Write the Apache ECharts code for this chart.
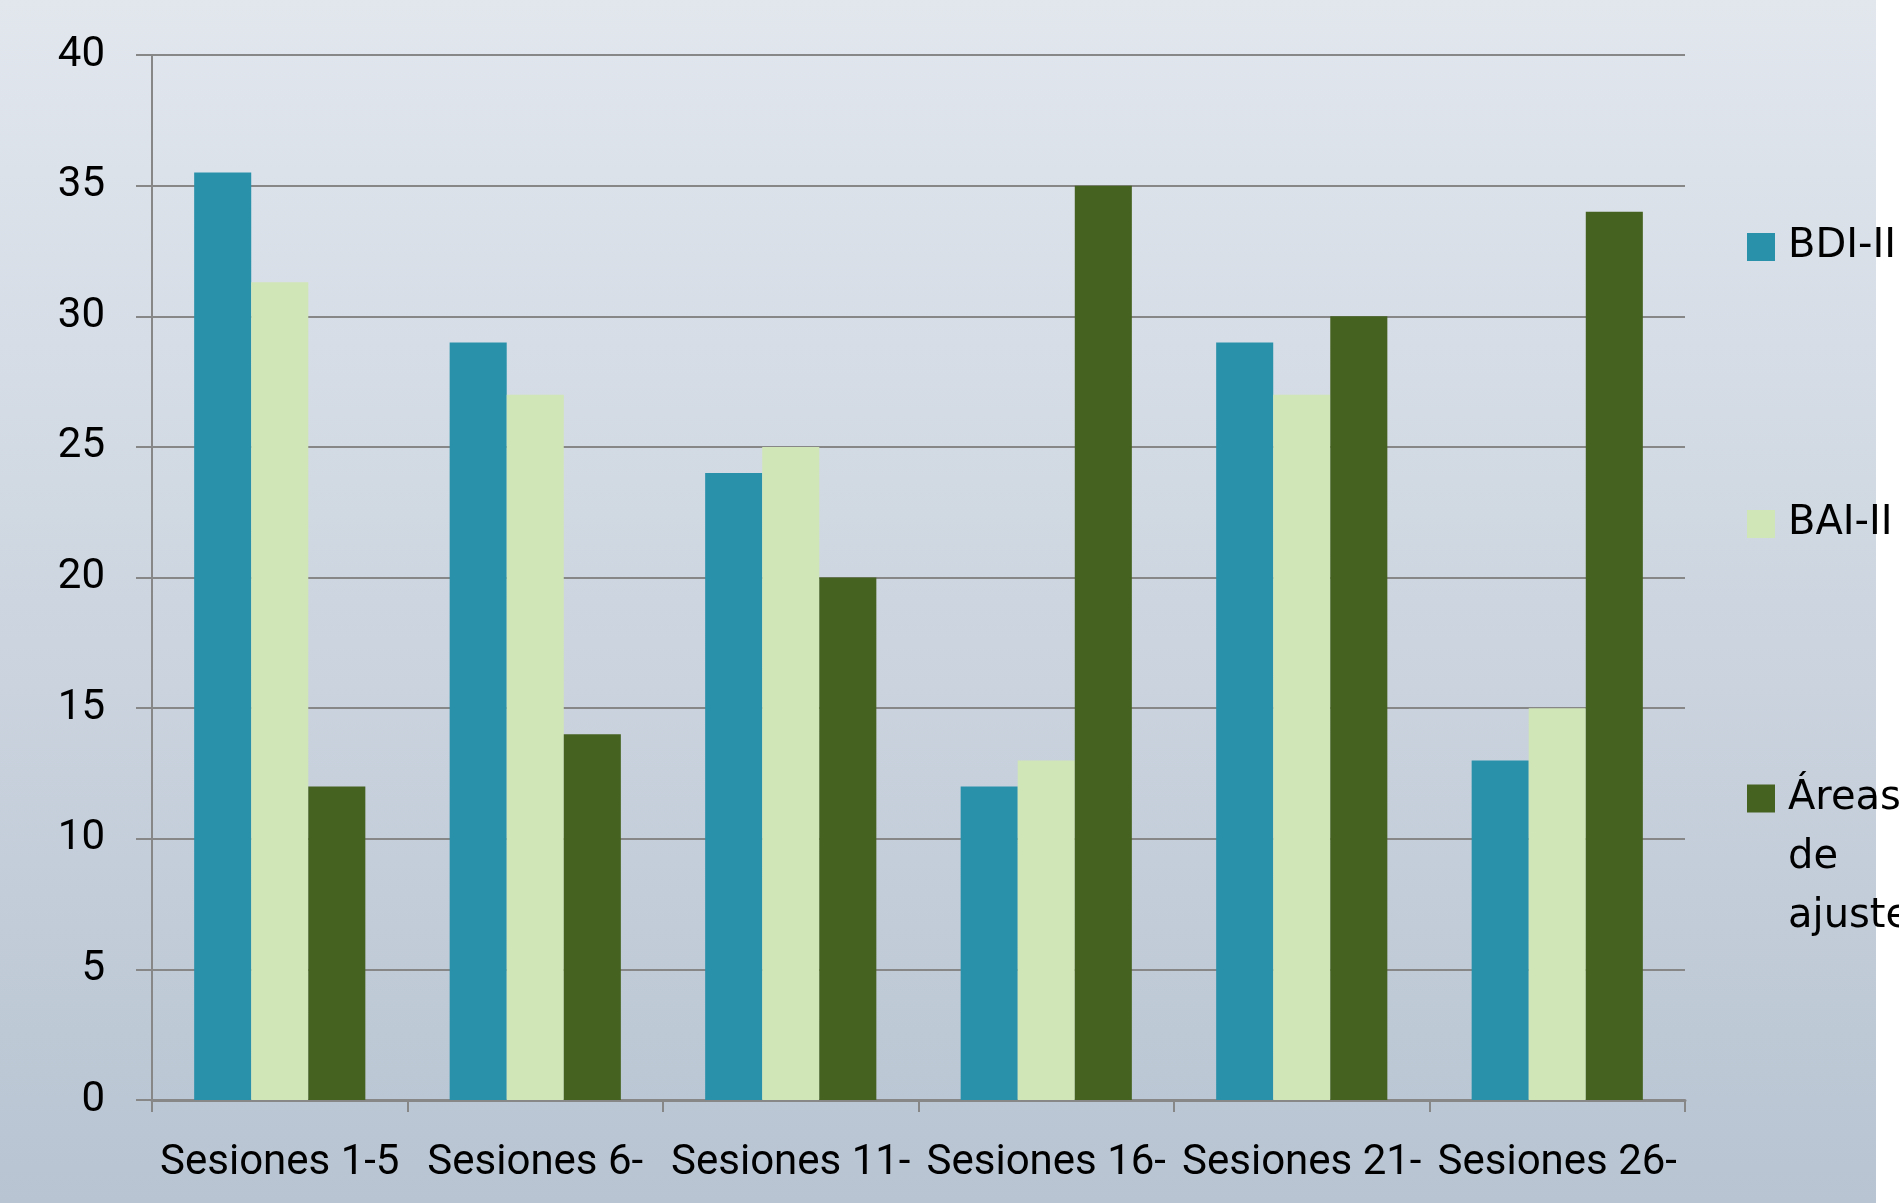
<!DOCTYPE html>
<html>
<head>
<meta charset="utf-8">
<title>Sesiones</title>
<script src="https://cdn.jsdelivr.net/npm/echarts@6/dist/echarts.min.js"></script>
<style>
  html, body { margin: 0; padding: 0; background: #ffffff; }
  #chart { width: 1899px; height: 1203px; }
</style>
</head>
<body>
<div id="chart"></div>
<script>
// Categories and scores per block of sessions
const categories = ['Sesiones 1-5', 'Sesiones 6-', 'Sesiones 11-', 'Sesiones 16-', 'Sesiones 21-', 'Sesiones 26-'];
const seriesNames = ['BDI-II', 'BAI-II', 'Áreas de ajuste'];
const bdi = [35.5, 29, 24, 12, 29, 13];
const bai = [31.3, 27, 25, 13, 27, 15];
const areas = [12, 14, 20, 35, 30, 34];
const yTicks = { min: 0, max: 40, interval: 5 };

const colors = ['#2A91AB', '#D1E6B6', '#466220'];
const axisGray = '#878787';
const labelFont = 'Roboto, "Liberation Sans", sans-serif';
const legendFont = '"DejaVu Sans", sans-serif';

const chart = echarts.init(document.getElementById('chart'), null, { renderer: 'canvas' });

// One legend block per series so each entry can sit at its own height
function legendFor(idx, top, extra) {
  return Object.assign({
    data: [seriesNames[idx]],
    orient: 'vertical',
    left: 1742,
    top: top,
    itemWidth: 28,
    itemHeight: 28,
    itemGap: 0,
    icon: 'rect',
    selectedMode: false,
    textStyle: {
      fontFamily: legendFont,
      fontSize: 40,
      color: '#000000',
      padding: [0, 0, 0, 8]
    }
  }, extra || {});
}

chart.setOption({
  animation: false,
  backgroundColor: '#ffffff',
  color: colors,
  graphic: [{
    type: 'rect',
    z: -10,
    silent: true,
    shape: { x: 0, y: 0, width: 1876, height: 1203 },
    style: {
      fill: new echarts.graphic.LinearGradient(0, 0, 0, 1, [
        { offset: 0, color: '#E2E7EE' },
        { offset: 1, color: '#B8C4D2' }
      ])
    }
  }],
  grid: { left: 152, right: 214, top: 55, bottom: 103, containLabel: false },
  legend: [
    legendFor(0, 222),
    legendFor(1, 499),
    // multi-line label: two blank lines in front keep the first line level with the swatch
    legendFor(2, 646, {
      formatter: name => '\n\n' + name.replace(/ /g, '\n'),
      textStyle: {
        fontFamily: legendFont,
        fontSize: 40,
        lineHeight: 59,
        color: '#000000',
        padding: [0, 0, 0, 8]
      }
    })
  ],
  xAxis: {
    type: 'category',
    data: categories,
    boundaryGap: true,
    axisLine: { show: true, lineStyle: { color: axisGray, width: 3 } },
    axisTick: { show: true, length: 12, lineStyle: { color: axisGray, width: 2 } },
    axisLabel: {
      interval: 0,
      margin: 42,
      fontFamily: labelFont,
      fontSize: 42,
      color: '#000000'
    },
    splitLine: { show: false }
  },
  yAxis: {
    type: 'value',
    min: yTicks.min,
    max: yTicks.max,
    interval: yTicks.interval,
    axisLine: { show: true, lineStyle: { color: axisGray, width: 2 } },
    axisTick: { show: true, length: 16, lineStyle: { color: axisGray, width: 2 } },
    axisLabel: {
      margin: 47,
      padding: [8, 0, 0, 0],
      fontFamily: labelFont,
      fontSize: 42,
      color: '#000000'
    },
    splitLine: { show: true, lineStyle: { color: axisGray, width: 2 } }
  },
  series: [
    { name: seriesNames[0], type: 'bar', data: bdi, barGap: '0%', barCategoryGap: '33%' },
    { name: seriesNames[1], type: 'bar', data: bai, barGap: '0%', barCategoryGap: '33%' },
    { name: seriesNames[2], type: 'bar', data: areas, barGap: '0%', barCategoryGap: '33%' }
  ]
});
</script>
</body>
</html>
